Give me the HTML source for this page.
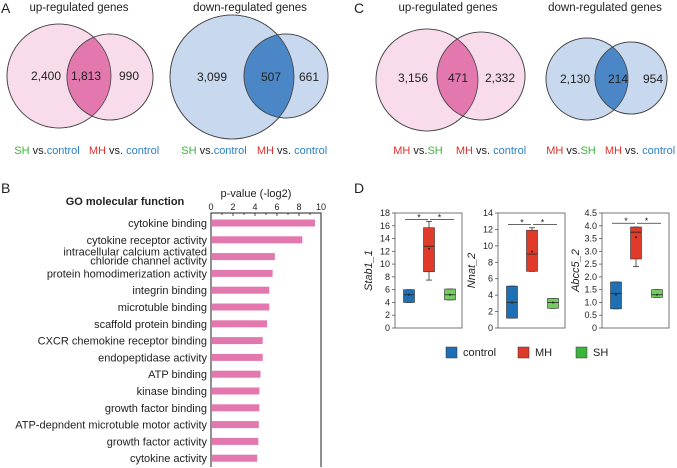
<!DOCTYPE html>
<html><head><meta charset="utf-8"><style>
body{margin:0;background:#fff;width:677px;height:468px;overflow:hidden}
svg{font-family:"Liberation Sans",Arial,sans-serif;display:block}
</style></head><body>
<svg id="fig" width="677" height="468" viewBox="0 0 677 468">
<g font-size="14" fill="#222">
<text x="1" y="13">A</text>
<text x="354" y="13">C</text>
<text x="1" y="193">B</text>
<text x="354" y="193">D</text>
</g>
<g font-size="11.5" fill="#222" text-anchor="middle">
<text x="79" y="11">up-regulated genes</text>
<text x="250" y="11">down-regulated genes</text>
<text x="448" y="11">up-regulated genes</text>
<text x="605" y="11">down-regulated genes</text>
</g>
<g id="venns"></g>
<g font-size="11" text-anchor="middle">
<text x="47" y="154"><tspan fill="#3cb43c">SH</tspan><tspan fill="#222"> vs.</tspan><tspan fill="#2a80c8">control</tspan></text>
<text x="124" y="154"><tspan fill="#e0302a">MH</tspan><tspan fill="#222"> vs. </tspan><tspan fill="#2a80c8">control</tspan></text>
<text x="214" y="154"><tspan fill="#3cb43c">SH</tspan><tspan fill="#222"> vs.</tspan><tspan fill="#2a80c8">control</tspan></text>
<text x="292" y="154"><tspan fill="#e0302a">MH</tspan><tspan fill="#222"> vs. </tspan><tspan fill="#2a80c8">control</tspan></text>
<text x="418" y="154"><tspan fill="#e0302a">MH</tspan><tspan fill="#222"> vs.</tspan><tspan fill="#3cb43c">SH</tspan></text>
<text x="491" y="154"><tspan fill="#e0302a">MH</tspan><tspan fill="#222"> vs. </tspan><tspan fill="#2a80c8">control</tspan></text>
<text x="571" y="154"><tspan fill="#e0302a">MH</tspan><tspan fill="#222"> vs.</tspan><tspan fill="#3cb43c">SH</tspan></text>
<text x="640" y="154"><tspan fill="#e0302a">MH</tspan><tspan fill="#222"> vs. </tspan><tspan fill="#2a80c8">control</tspan></text>
</g>
<text x="125" y="205" font-size="11" font-weight="bold" text-anchor="middle" fill="#222">GO molecular function</text>
<text x="256" y="197" font-size="11" text-anchor="middle" fill="#222">p-value (-log2)</text>
<g id="barchart"></g>
<g id="boxes"></g>
<g id="legend" font-size="11" fill="#222">
<rect x="446" y="347" width="11" height="11" fill="#1f6fb5" stroke="#333" stroke-width="0.5"/>
<text x="463" y="356">control</text>
<rect x="518" y="347" width="11" height="11" fill="#e03a2a" stroke="#333" stroke-width="0.5"/>
<text x="535" y="356">MH</text>
<rect x="576" y="347" width="11" height="11" fill="#3cb43c" stroke="#333" stroke-width="0.5"/>
<text x="593" y="356">SH</text>
</g>
</svg>
<script>
var NS="http://www.w3.org/2000/svg";
function mk(p,t,a){var e=document.createElementNS(NS,t);for(var k in a)e.setAttribute(k,a[k]);p.appendChild(e);return e;}

// Venn data
var vennNames=["venn-a-up","venn-a-down","venn-c-up","venn-c-down"];
var vennCounts=[["2,400","1,813","990"],["3,099","507","661"],["3,156","471","2,332"],["2,130","214","954"]];
var vennGeom=[[59,76,52,110,77,43,46,86,129],[232,77,62,286,76,42,212,271,309],[427,80,51,481,76,44,413,458,500],[587,79,41,631,78,36,575,618,653]];
var vennFill=[["#f9dcec","#e378ae"],["#c8d8ef","#4b87c6"],["#f9dcec","#e378ae"],["#c8d8ef","#4b87c6"]];
var vg=document.getElementById("venns");
vennGeom.forEach(function(g,i){
  var grp=mk(vg,"g",{});
  
  
  var id="clip"+i;
  var cp=mk(grp,"clipPath",{id:id});mk(cp,"circle",{cx:g[3],cy:g[4],r:g[5]});
  var c1=mk(grp,"circle",{cx:g[0],cy:g[1],r:g[2],fill:vennFill[i][0],stroke:"#444","stroke-width":0.8});
  
  
  var c2=mk(grp,"circle",{cx:g[3],cy:g[4],r:g[5],fill:vennFill[i][0],stroke:"#444","stroke-width":0.8});
  
  
  var l=mk(grp,"circle",{cx:g[0],cy:g[1],r:g[2],fill:vennFill[i][1],"clip-path":"url(#"+id+")"});
  
  
  mk(grp,"circle",{cx:g[0],cy:g[1],r:g[2],fill:"none",stroke:"#444","stroke-width":0.8});
  mk(grp,"circle",{cx:g[3],cy:g[4],r:g[5],fill:"none",stroke:"#444","stroke-width":0.8});
  for(var k=0;k<3;k++){
    var t=mk(grp,"text",{x:g[6+k],y:g[1]+4+(i==2?-2:0),"font-size":12,"text-anchor":"middle",fill:"#222"});
    t.textContent=vennCounts[i][k];
    
    
  }
});

// Bar chart
var goTerms=["cytokine binding","cytokine receptor activity","intracellular calcium activated|chloride channel activity","protein homodimerization activity","integrin binding","microtuble binding","scaffold protein binding","CXCR chemokine receptor binding","endopeptidase activity","ATP binding","kinase binding","growth factor binding","ATP-depndent microtuble motor activity","growth factor activity","cytokine activity"];
var goValues=[9.45,8.3,5.8,5.6,5.3,5.3,5.1,4.7,4.7,4.5,4.4,4.4,4.35,4.3,4.2];
var xTicks=[0,2,4,6,8,10];
var bc=document.getElementById("barchart");
var X0=211,X1=321,YT=213,YB=467;
function xs(v){return X0+(X1-X0)*v/10;}
function ys(i){return 223+i*16.8;}
var ax=mk(bc,"path",{d:"M"+X0+","+YB+"V"+YT+"H"+X1+"V"+YB,fill:"none",stroke:"#222","stroke-width":1});


for(var v=0;v<=10;v++){mk(bc,"line",{x1:xs(v),x2:xs(v),y1:YT,y2:YT+(v%2?2:3),stroke:"#222","stroke-width":0.8});}
xTicks.forEach(function(v){var t=mk(bc,"text",{x:xs(v),y:YT-3,"font-size":9,"text-anchor":"middle",fill:"#222"});t.textContent=v;
 
 });
goTerms.forEach(function(term,i){
  var r=mk(bc,"rect",{x:X0+1,y:ys(i)-3.5,width:xs(goValues[i])-X0-1,height:7,fill:"#e378ae"});
  
  
  var parts=term.split("|");
  parts.forEach(function(p,j){
    var t=mk(bc,"text",{x:207,y:ys(i)+4+(parts.length>1?(j==0?-5:4):0),"font-size":11,"text-anchor":"end",fill:"#222"});
    t.textContent=p;
    
    
  });
});

// Box plots
var geneNames=["Stab1_1","Nnat_2","Abcc5_2"];
var yMax=[18,14,4.5];
var yStep=[2,2,0.5];
var boxControl=[[4,5.2,6,5.2,4,6],[1.2,3.1,5.1,3.1,1.2,5.1],[0.75,1.35,1.8,1.3,0.75,1.8]];
var boxMH=[[8.8,12.8,15.7,12.4,7.5,16.7],[6.9,9,11.9,9.3,6.9,12.2],[2.7,3.75,3.95,3.55,2.4,3.95]];
var boxSH=[[4.4,5.2,6.1,5.2,4.4,6.1],[2.4,3.1,3.6,3.1,2.4,3.6],[1.2,1.3,1.5,1.3,1.2,1.5]];
var sigLevel=[17,12.6,4.1];
var plotLeft=[395,498,602];
var bx=document.getElementById("boxes");
var PW=67,PT=213,PB=328;
var grpColors=["#1f6fb5","#e03a2a","#72cc5e"];
geneNames.forEach(function(gname,p){
  var L=plotLeft[p],R=L+PW;
  function y(v){return PB-(PB-PT)*v/yMax[p];}
  var g=mk(bx,"g",{});
  
  
  mk(g,"rect",{x:L,y:PT,width:PW,height:PB-PT,fill:"none",stroke:"#555","stroke-width":0.8});
  for(var v=0;v<=yMax[p]+1e-9;v+=yStep[p]){
    mk(g,"line",{x1:L-3,x2:L,y1:y(v),y2:y(v),stroke:"#555","stroke-width":0.8});
    var t=mk(g,"text",{x:L-5,y:y(v)+3,"font-size":9,"text-anchor":"end",fill:"#222"});
    t.textContent=(yStep[p]<1&&v>0)?v.toFixed(1):Math.round(v);
    
    
  }
  var yt=mk(g,"text",{x:0,y:0,"font-size":11,"font-style":"italic","text-anchor":"middle",fill:"#222",transform:"translate("+(L-23)+","+((PT+PB)/2)+") rotate(-90)"});
  yt.textContent=gname;
  
  
  var data=[boxControl[p],boxMH[p],boxSH[p]];
  var cx=[L+14,L+34,L+55];
  data.forEach(function(d,k){
    var c=cx[k],w=5.5;
    mk(g,"line",{x1:c,x2:c,y1:y(d[4]),y2:y(d[5]),stroke:"#333","stroke-width":0.8});
    mk(g,"line",{x1:c-3,x2:c+3,y1:y(d[4]),y2:y(d[4]),stroke:"#333","stroke-width":0.8});
    mk(g,"line",{x1:c-3,x2:c+3,y1:y(d[5]),y2:y(d[5]),stroke:"#333","stroke-width":0.8});
    var b=mk(g,"rect",{x:c-w,y:y(d[2]),width:2*w,height:y(d[0])-y(d[2]),fill:grpColors[k],stroke:"#333","stroke-width":0.6});
    
    
    mk(g,"line",{x1:c-w,x2:c+w,y1:y(d[1]),y2:y(d[1]),stroke:"#222","stroke-width":0.8});
    mk(g,"circle",{cx:c,cy:y(d[3]),r:1,fill:"#222"});
  });
  var sy=y(sigLevel[p]);
  mk(g,"line",{x1:cx[0]-4,x2:cx[1]-1,y1:sy,y2:sy,stroke:"#333","stroke-width":0.8});
  mk(g,"line",{x1:cx[1]+1,x2:cx[2]+4,y1:sy,y2:sy,stroke:"#333","stroke-width":0.8});
  [(cx[0]+cx[1])/2,(cx[1]+cx[2])/2].forEach(function(sx){
    var s=mk(g,"text",{x:sx,y:sy+1,"font-size":9,"text-anchor":"middle",fill:"#222"});
    s.textContent="*";
    
    
  });
});
</script>
</body></html>
